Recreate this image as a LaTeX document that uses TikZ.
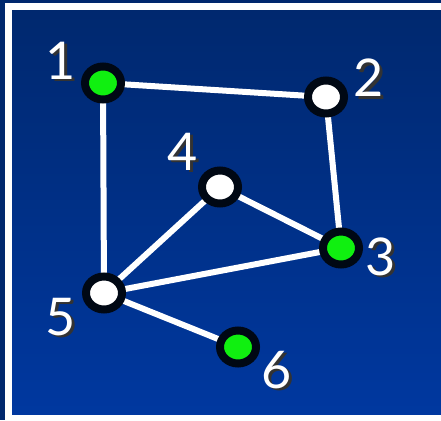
\documentclass[tikz,border=0pt]{standalone}
\usepackage{fontspec}
\setmainfont{Lato}
\definecolor{bgtop}{HTML}{00286E}
\definecolor{bgbot}{HTML}{0038A0}
\definecolor{ringc}{HTML}{000814}
\definecolor{greenc}{HTML}{10F010}
\usetikzlibrary{shapes.geometric}
\newcommand{\shadowed}[1]{\makebox[0pt][l]{\hspace{2.5pt}\raisebox{-2.5pt}{\color{black!80}#1}}#1}
\tikzset{
  vert/.style={ellipse, draw=ringc, line width=8pt, minimum width=36pt, minimum height=33pt, inner sep=0pt},
  gvert/.style={vert, fill=greenc},
  wvert/.style={vert, fill=white},
  edge/.style={draw=white, line width=6pt},
  lab/.style={text=white, font=\fontsize{52}{52}\selectfont, inner sep=0pt},
}
\begin{document}
\begin{tikzpicture}[x=1pt,y=-1pt]
\useasboundingbox (0,0) rectangle (441,420);
\fill[bgtop] (0,0) rectangle (441,420);
\shade[top color=bgtop, bottom color=bgbot] (8.5,6.5) rectangle (445,418);
\draw[white, line width=7pt] (446,6.5) -- (8.5,6.5) -- (8.5,418) -- (446,418);
% vertex positions
\coordinate (p1) at (103,83);
\coordinate (p2) at (326,97);
\coordinate (p3) at (341,248);
\coordinate (p4) at (220,187);
\coordinate (p5) at (104,293);
\coordinate (p6) at (238,347);
% edges
\draw[edge] (p1) -- (p2);
\draw[edge] (p2) -- (p3);
\draw[edge] (p1) -- (p5);
\draw[edge] (p4) -- (p5);
\draw[edge] (p4) -- (p3);
\draw[edge] (p5) -- (p3);
\draw[edge] (p5) -- (p6);
% vertices
\node[gvert] (n1) at (p1) {};
\node[wvert] (n2) at (p2) {};
\node[gvert] (n3) at (p3) {};
\node[wvert] (n4) at (p4) {};
\node[wvert] (n5) at (p5) {};
\node[gvert] (n6) at (p6) {};
% labels
\node[lab] (l1) at (61,62) {\shadowed{1}};
\node[lab] (l2) at (369,79) {\shadowed{2}};
\node[lab] (l3) at (381,258) {\shadowed{3}};
\node[lab] (l4) at (183,153) {\shadowed{4}};
\node[lab] (l5) at (61,318) {\shadowed{5}};
\node[lab] (l6) at (277,371) {\shadowed{6}};
\end{tikzpicture}
\end{document}
